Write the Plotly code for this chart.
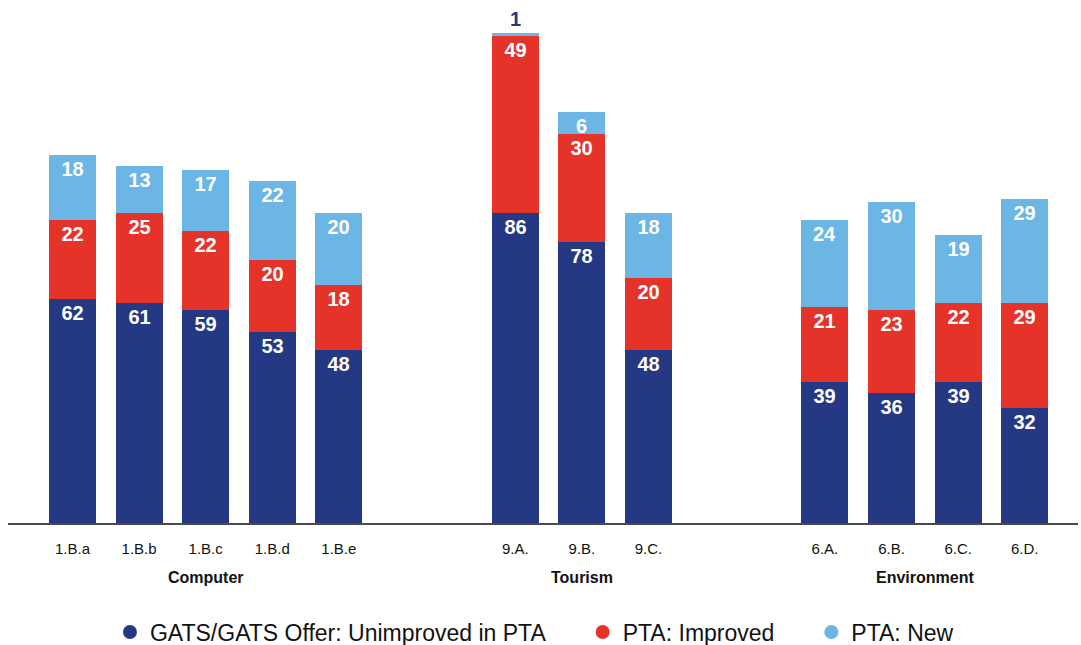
import plotly.graph_objects as go

# ---- data ----
categories = ["1.B.a", "1.B.b", "1.B.c", "1.B.d", "1.B.e",
              "9.A.", "9.B.", "9.C.",
              "6.A.", "6.B.", "6.C.", "6.D."]
group_names = ["Computer", "Tourism", "Environment"]
group_sizes = [5, 3, 4]
unimproved = [62, 61, 59, 53, 48, 86, 78, 48, 39, 36, 39, 32]
improved = [22, 25, 22, 20, 18, 49, 30, 20, 21, 23, 22, 29]
new = [18, 13, 17, 22, 20, 1, 6, 18, 24, 30, 19, 29]
series_names = ["GATS/GATS Offer: Unimproved in PTA", "PTA: Improved", "PTA: New"]

# ---- styling / layout ----
NAVY = "#253884"
RED = "#E5332A"
LIGHT = "#6CB6E6"
FONT = "Liberation Sans, Arial, Helvetica, sans-serif"
GROUP_GAP = 1.65   # extra blank slots between groups

# x positions built from group structure
xpos = []
group_centers = []
cur = 0.0
for gi, n in enumerate(group_sizes):
    start = cur
    for k in range(n):
        xpos.append(cur)
        cur += 1
    group_centers.append((start + cur - 1) / 2)
    cur += GROUP_GAP

fig = go.Figure()

def small_seg_pos(vals):
    return ["outside" if v < 3 else "inside" for v in vals]

for vals, color, name, top in [(unimproved, NAVY, series_names[0], False),
                               (improved, RED, series_names[1], False),
                               (new, LIGHT, series_names[2], True)]:
    fig.add_trace(go.Bar(
        x=xpos, y=vals, name=name, marker=dict(color=color, line=dict(width=0)),
        width=0.706,
        text=[str(v) for v in vals],
        textposition=small_seg_pos(vals) if top else "inside",
        insidetextanchor="end",
        textangle=0,
        constraintext="none",
        insidetextfont=dict(family=FONT, size=20, color="white", weight="bold"),
        outsidetextfont=dict(family=FONT, size=20, color=NAVY, weight="bold"),
        cliponaxis=False,
        showlegend=False,
        hoverinfo="skip",
    ))

# legend entries with circular markers
pads = ["\u00a0" * 5, "\u00a0" * 5, ""]
for color, name, pad in zip([NAVY, RED, LIGHT], series_names, pads):
    fig.add_trace(go.Scatter(
        x=[None], y=[None], mode="markers", name=name + pad,
        marker=dict(color=color, size=14, symbol="circle"),
        showlegend=True,
    ))

for name, cx in zip(group_names, group_centers):
    fig.add_annotation(
        x=cx, xref="x", y=0, yref="paper", yshift=-54, yanchor="middle",
        text=name, showarrow=False,
        font=dict(family=FONT, size=16, color="#111111", weight="bold"),
    )

fig.update_layout(
    barmode="stack",
    width=1081, height=645,
    margin=dict(l=8, r=3, t=10, b=122, autoexpand=False),
    paper_bgcolor="white", plot_bgcolor="white",
    font=dict(family=FONT, color="#111111"),
    bargap=0,
    xaxis=dict(
        range=[-0.968, 15.1],
        tickvals=xpos, ticktext=categories,
        tickfont=dict(family=FONT, size=15, color="#111111"),
        showgrid=False, zeroline=False,
        showline=True, linecolor="#4a4a4a", linewidth=2,
        ticks="", ticklabelstandoff=11,
        fixedrange=True,
    ),
    yaxis=dict(
        range=[0, 142.3], visible=False, showgrid=False, zeroline=False,
        fixedrange=True,
    ),
    legend=dict(
        orientation="h", x=0.492, xanchor="center", y=-0.2125, yanchor="middle",
        traceorder="normal",
        font=dict(family=FONT, size=23, color="#111111"),
        bgcolor="rgba(0,0,0,0)",
    ),
)

fig.write_html("out.html", config={"displayModeBar": False},
               post_script="document.body.style.margin='0';document.body.style.overflow='hidden';")
